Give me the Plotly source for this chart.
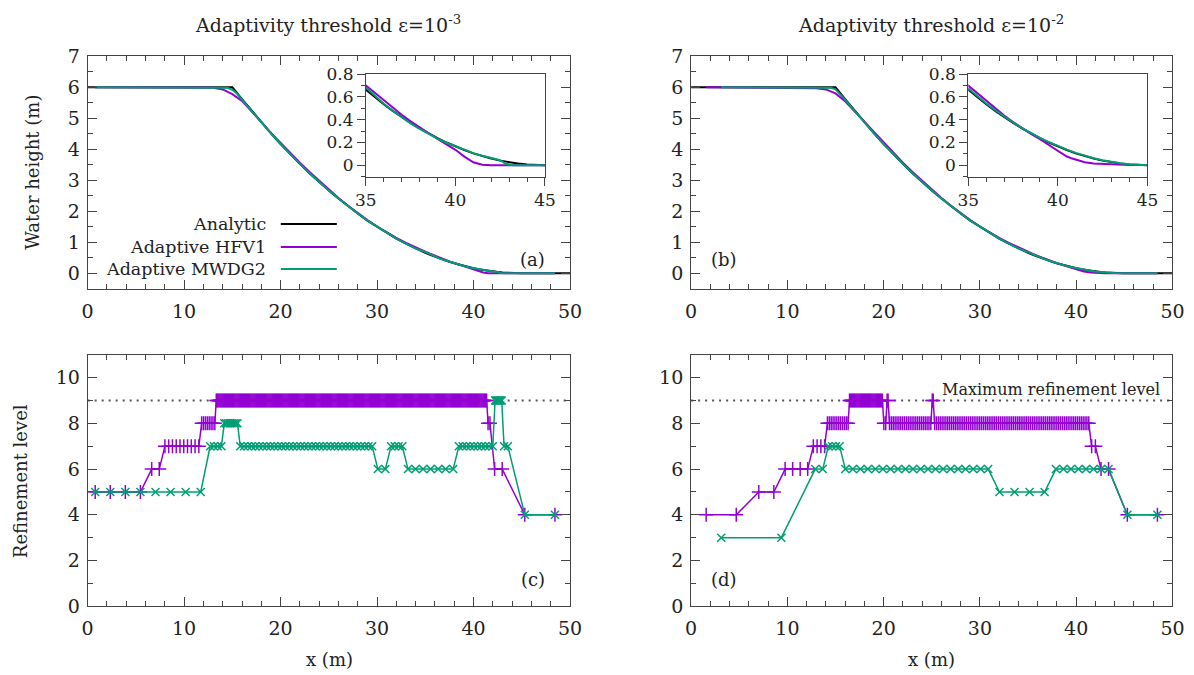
import plotly.graph_objects as go

# ---------------- data ----------------
DOMAIN = 50.0          # channel length (m)
MAX_LEVEL = 9

# analytic water height
ana_x = [0, 15, 16, 17, 18, 19, 20, 21, 22, 23, 24, 25, 26, 27, 28, 29, 30, 31, 32, 33, 34,
         35, 35.5, 36, 36.5, 37, 37.5, 38, 38.5, 39, 39.5, 40, 40.5, 41, 41.5, 42, 42.5, 43,
         43.5, 44, 44.5, 45, 50]
ana_h = [6.0, 6.0, 5.62, 5.24, 4.87, 4.51, 4.17, 3.84, 3.53, 3.23, 2.94, 2.67, 2.41, 2.16,
         1.93, 1.70, 1.50, 1.30, 1.12, 0.96, 0.80,
         0.663, 0.598, 0.536, 0.478, 0.423, 0.372, 0.323, 0.279, 0.237, 0.199, 0.164, 0.133,
         0.104, 0.080, 0.058, 0.040, 0.025, 0.014, 0.006, 0.001, 0.0, 0.0]

# eps = 1e-3
hfv1_a_x = [0.78, 12, 13, 14, 15, 16, 17, 18, 19, 20, 21, 22, 23, 24, 25, 26, 27, 28, 29, 30,
            31, 32, 33, 34, 35, 35.5, 36, 36.5, 37, 37.5, 38, 38.5, 39, 39.5, 40, 40.5, 41,
            41.5, 42, 48.44]
hfv1_a_h = [6.0, 6.0, 5.98, 5.93, 5.78, 5.56, 5.23, 4.88, 4.53, 4.20, 3.88, 3.57, 3.27, 2.98,
            2.70, 2.43, 2.18, 1.94, 1.72, 1.51, 1.32, 1.14, 0.98, 0.83,
            0.700, 0.632, 0.566, 0.503, 0.443, 0.386, 0.332, 0.280, 0.230, 0.183, 0.135,
            0.075, 0.025, 0.004, 0.0, 0.0]
mwdg2_a_x = [0.78, 14, 14.5, 15, 15.5, 16, 17, 18, 19, 20, 21, 22, 23, 24, 25, 26, 27, 28, 29,
             30, 31, 32, 33, 34, 35, 35.5, 36, 36.5, 37, 37.5, 38, 38.5, 39, 39.5, 40, 40.5,
             41, 41.5, 42, 42.5, 42.8, 43.2, 48.44]
mwdg2_a_h = [6.0, 6.0, 5.98, 5.92, 5.79, 5.60, 5.23, 4.86, 4.51, 4.17, 3.84, 3.53, 3.23, 2.94,
             2.67, 2.41, 2.16, 1.93, 1.70, 1.50, 1.30, 1.12, 0.96, 0.80,
             0.683, 0.610, 0.540, 0.478, 0.420, 0.368, 0.318, 0.274, 0.234, 0.197, 0.165,
             0.135, 0.106, 0.082, 0.060, 0.044, 0.012, 0.0, 0.0]

# eps = 1e-2
hfv1_b_x = [1.56, 12, 13, 14, 15, 16, 17, 18, 19, 20, 21, 22, 23, 24, 25, 26, 27, 28, 29, 30,
            31, 32, 33, 34, 35, 35.5, 36, 36.5, 37, 37.5, 38, 38.5, 39, 39.5, 40, 40.5, 40.8,
            41.5, 42, 43, 44, 48.44]
hfv1_b_h = [6.0, 5.99, 5.97, 5.93, 5.80, 5.55, 5.22, 4.88, 4.53, 4.20, 3.88, 3.57, 3.27, 2.98,
            2.70, 2.43, 2.18, 1.94, 1.72, 1.51, 1.32, 1.14, 0.98, 0.83,
            0.700, 0.630, 0.562, 0.498, 0.437, 0.379, 0.325, 0.275, 0.228, 0.178, 0.122,
            0.076, 0.058, 0.025, 0.014, 0.005, 0.001, 0.0]
mwdg2_b_x = [3.125, 14, 14.5, 15, 15.5, 16, 17, 18, 19, 20, 21, 22, 23, 24, 25, 26, 27, 28, 29,
             30, 31, 32, 33, 34, 35, 35.5, 36, 36.5, 37, 37.5, 38, 38.5, 39, 39.5, 40, 40.5,
             41, 41.5, 42, 42.5, 43, 43.5, 44, 44.5, 45, 48.44]
mwdg2_b_h = [6.0, 6.0, 5.98, 5.93, 5.78, 5.60, 5.23, 4.86, 4.51, 4.17, 3.84, 3.53, 3.23, 2.94,
             2.67, 2.41, 2.16, 1.93, 1.70, 1.50, 1.30, 1.12, 0.96, 0.80,
             0.675, 0.607, 0.543, 0.483, 0.427, 0.375, 0.325, 0.281, 0.240, 0.202, 0.168,
             0.137, 0.108, 0.083, 0.061, 0.043, 0.028, 0.016, 0.008, 0.003, 0.0, 0.0]

# refinement level blocks: block edges (m) and level of the cells inside each block
hfv1_c_edges = [0, 6.25, 7.8125, 11.71875, 13.28125, 41.40625, 41.796875, 43.75, 50]
hfv1_c_levels = [5, 6, 7, 8, 9, 8, 6, 4]
mwdg2_c_edges = [0, 12.5, 14.0625, 15.625, 29.6875, 31.25, 32.8125, 38.28125, 42.1875,
                 42.96875, 43.75, 50]
mwdg2_c_levels = [5, 7, 8, 7, 6, 7, 6, 7, 9, 7, 4]
hfv1_d_edges = [0, 6.25, 9.375, 12.5, 14.0625, 16.40625, 19.921875, 20.3125, 20.5078125, 25.0,
                25.1953125, 41.40625, 42.1875, 43.75, 50]
hfv1_d_levels = [4, 5, 6, 7, 8, 9, 8, 9, 8, 9, 8, 7, 6, 4]
mwdg2_d_edges = [0, 12.5, 14.0625, 15.625, 31.25, 37.5, 43.75, 50]
mwdg2_d_levels = [3, 6, 7, 6, 5, 6, 4]


def cell_centres(edges, levels):
    xs, ys = [], []
    for a, b, lev in zip(edges[:-1], edges[1:], levels):
        w = DOMAIN / 2 ** lev
        n = int(round((b - a) / w))
        for k in range(n):
            xs.append(a + (k + 0.5) * w)
            ys.append(lev)
    return xs, ys


# ---------------- styling ----------------
W, H = 1194, 675
FONT = "DejaVu Serif"
PURPLE = "#9400D3"
GREEN = "#009E73"
AX = "#444444"
TXT = "#222222"

# the photographed page shows the viewport slightly reduced with a thin border;
# positions below are target picture pixels, mapped back to page pixels here
SX, OX = 0.98, 11.4
SY, OY = 0.969, 10.7


def px(x):
    return ((x - OX) / SX) / W


def py(y):
    return 1 - ((y - OY) / SY) / H


XA = [px(88), px(570)]
XB = [px(691), px(1172)]
YT = [py(289), py(56)]
YBt = [py(607), py(355)]
XIA = [px(366), px(545)]
XIB = [px(968), px(1147)]
YI = [py(176.5), py(74)]

fig = go.Figure()


def add_line(x, y, xa, ya, color, width=2):
    fig.add_trace(go.Scatter(x=x, y=y, mode="lines", xaxis=xa, yaxis=ya,
                             line=dict(color=color, width=width), showlegend=False,
                             hoverinfo="skip"))


for xa, ya, hx, hh, mx, mh in [
    ("x", "y", hfv1_a_x, hfv1_a_h, mwdg2_a_x, mwdg2_a_h),
    ("x2", "y2", hfv1_b_x, hfv1_b_h, mwdg2_b_x, mwdg2_b_h),
    ("x5", "y5", hfv1_a_x, hfv1_a_h, mwdg2_a_x, mwdg2_a_h),
    ("x6", "y6", hfv1_b_x, hfv1_b_h, mwdg2_b_x, mwdg2_b_h),
]:
    add_line(ana_x, ana_h, xa, ya, "black")
    add_line(hx, hh, xa, ya, PURPLE)
    add_line(mx, mh, xa, ya, GREEN)

for xa, ya, he, hl, me, ml in [
    ("x3", "y3", hfv1_c_edges, hfv1_c_levels, mwdg2_c_edges, mwdg2_c_levels),
    ("x4", "y4", hfv1_d_edges, hfv1_d_levels, mwdg2_d_edges, mwdg2_d_levels),
]:
    fig.add_trace(go.Scatter(x=[0, DOMAIN], y=[MAX_LEVEL, MAX_LEVEL], mode="lines",
                             xaxis=xa, yaxis=ya, showlegend=False, hoverinfo="skip",
                             line=dict(color="#555555", width=2, dash="2px,5px")))
    cx, cy = cell_centres(he, hl)
    fig.add_trace(go.Scatter(x=cx, y=cy, mode="lines+markers", xaxis=xa, yaxis=ya,
                             showlegend=False, hoverinfo="skip",
                             line=dict(color=PURPLE, width=1.5),
                             marker=dict(symbol="cross-thin", size=10,
                                         line=dict(color=PURPLE, width=1.5))))
    cx, cy = cell_centres(me, ml)
    fig.add_trace(go.Scatter(x=cx, y=cy, mode="lines+markers", xaxis=xa, yaxis=ya,
                             showlegend=False, hoverinfo="skip",
                             line=dict(color=GREEN, width=1.5),
                             marker=dict(symbol="x-thin", size=8,
                                         line=dict(color=GREEN, width=1.5))))


def main_axis(domain, rng, dtick, mdtick, anchor, standoff):
    return dict(domain=domain, range=rng, dtick=dtick, tick0=0, anchor=anchor,
                ticks="inside", ticklen=9, tickwidth=1, tickcolor=AX,
                minor=dict(dtick=mdtick, ticks="inside", ticklen=5, tickcolor=AX, tickwidth=1),
                showline=True, linecolor=AX, linewidth=1, mirror="allticks",
                showgrid=False, zeroline=False, ticklabelstandoff=standoff,
                tickfont=dict(family=FONT, size=19, color=TXT))


def inset_axis(domain, rng, dtick, mdtick, anchor):
    return dict(domain=domain, range=rng, dtick=dtick, tick0=0, anchor=anchor,
                ticks="outside", ticklen=8, tickwidth=1, tickcolor=AX,
                minor=dict(dtick=mdtick, ticks="outside", ticklen=4, tickcolor=AX, tickwidth=1),
                showline=True, linecolor=AX, linewidth=1, mirror=True,
                showgrid=False, zeroline=False,
                tickfont=dict(family=FONT, size=17, color=TXT))


XR = [0, DOMAIN]
layout = dict(
    width=W, height=H, autosize=False,
    margin=dict(l=0, r=0, t=0, b=0),
    paper_bgcolor="white", plot_bgcolor="white", showlegend=False,
    xaxis=main_axis(XA, XR, 10, 2, "y", 5),
    yaxis=main_axis(YT, [-0.5, 7.0001], 1, 0.5, "x", 3),
    xaxis2=main_axis(XB, XR, 10, 2, "y2", 5),
    yaxis2=main_axis(YT, [-0.5, 7.0001], 1, 0.5, "x2", 3),
    xaxis3=main_axis(XA, XR, 10, 2, "y3", 5),
    yaxis3=main_axis(YBt, [0, 11], 2, 1, "x3", 3),
    xaxis4=main_axis(XB, XR, 10, 2, "y4", 5),
    yaxis4=main_axis(YBt, [0, 11], 2, 1, "x4", 3),
    xaxis5=inset_axis(XIA, [35, 45], 5, 1, "y5"),
    yaxis5=inset_axis(YI, [-0.1, 0.8001], 0.2, 0.1, "x5"),
    xaxis6=inset_axis(XIB, [35, 45], 5, 1, "y6"),
    yaxis6=inset_axis(YI, [-0.1, 0.8001], 0.2, 0.1, "x6"),
)
fig.update_layout(**layout)

ann = []


def text(x, y, s, size=18, xanchor="center", angle=0):
    ann.append(dict(x=px(x), y=py(y), xref="paper", yref="paper", text=s, showarrow=False,
                    xanchor=xanchor, yanchor="middle", textangle=angle,
                    font=dict(family=FONT, size=size, color=TXT)))


text(328, 24, "Adaptivity threshold ε=10<sup>-3</sup>", size=19)
text(931, 24, "Adaptivity threshold ε=10<sup>-2</sup>", size=19)
text(32, 172, "Water height (m)", angle=-90)
text(21, 482, "Refinement level", angle=-90)
text(330, 660, "x (m)")
text(931, 660, "x (m)")
text(533, 260, "(a)")
text(724, 260, "(b)")
text(533, 580, "(c)")
text(724, 580, "(d)")
text(1162, 390, "Maximum refinement level", size=16, xanchor="right")

shapes = []
for yy, name, col in [(224, "Analytic", "black"), (247, "Adaptive HFV1", PURPLE),
                      (269, "Adaptive MWDG2", GREEN)]:
    text(268, yy, name, size=17.5, xanchor="right")
    shapes.append(dict(type="line", xref="paper", yref="paper", x0=px(281), x1=px(337),
                       y0=py(yy), y1=py(yy), line=dict(color=col, width=2)))

fig.update_layout(annotations=ann, shapes=shapes)
fig.write_html(
    "out.html",
    config={"displayModeBar": False},
    post_script="document.body.style.margin='0';document.body.style.padding='0';"
                "document.body.style.overflow='hidden';"
                "document.documentElement.style.overflow='hidden';",
)
